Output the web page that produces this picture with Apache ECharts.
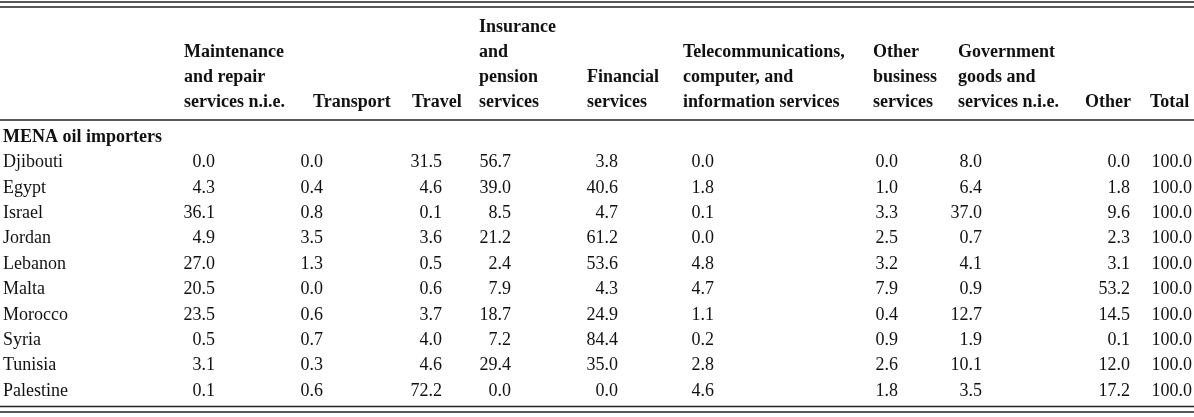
<!DOCTYPE html>
<html>
<head>
<meta charset="utf-8">
<style>
  html, body { margin: 0; padding: 0; background: #fff; }
  #main { width: 1194px; height: 417px; }
</style>
</head>
<body>
<div id="main"></div>
<script src="https://cdn.jsdelivr.net/npm/echarts@6/dist/echarts.min.js"></script>
<script>
// column headers, one entry per printed line
var headers = [
  ['Maintenance', 'and repair', 'services n.i.e.'],
  ['Transport'],
  ['Travel'],
  ['Insurance', 'and', 'pension', 'services'],
  ['Financial', 'services'],
  ['Telecommunications,', 'computer, and', 'information services'],
  ['Other', 'business', 'services'],
  ['Government', 'goods and', 'services n.i.e.'],
  ['Other'],
  ['Total']
]

var groupName = 'MENA oil importers'
var countries = ['Djibouti', 'Egypt', 'Israel', 'Jordan', 'Lebanon', 'Malta', 'Morocco', 'Syria', 'Tunisia', 'Palestine']

var maintenance = [0.0, 4.3, 36.1, 4.9, 27.0, 20.5, 23.5, 0.5, 3.1, 0.1]
var transport = [0.0, 0.4, 0.8, 3.5, 1.3, 0.0, 0.6, 0.7, 0.3, 0.6]
var travel = [31.5, 4.6, 0.1, 3.6, 0.5, 0.6, 3.7, 4.0, 4.6, 72.2]
var insurance = [56.7, 39.0, 8.5, 21.2, 2.4, 7.9, 18.7, 7.2, 29.4, 0.0]
var financial = [3.8, 40.6, 4.7, 61.2, 53.6, 4.3, 24.9, 84.4, 35.0, 0.0]
var telecom = [0.0, 1.8, 0.1, 0.0, 4.8, 4.7, 1.1, 0.2, 2.8, 4.6]
var otherBusiness = [0.0, 1.0, 3.3, 2.5, 3.2, 7.9, 0.4, 0.9, 2.6, 1.8]
var government = [8.0, 6.4, 37.0, 0.7, 4.1, 0.9, 12.7, 1.9, 10.1, 3.5]
var other = [0.0, 1.8, 9.6, 2.3, 3.1, 53.2, 14.5, 0.1, 12.0, 17.2]
var total = [100.0, 100.0, 100.0, 100.0, 100.0, 100.0, 100.0, 100.0, 100.0, 100.0]

var valueColumns = [maintenance, transport, travel, insurance, financial, telecom, otherBusiness, government, other, total]

// layout: where each column sits on the (pixel wide) x axis
var headLeft = [184, 313, 412, 479, 587, 683, 873, 958, 1085, 1150]
var numRight = [215, 323, 442, 511, 618, 714, 898, 982, 1130, 1192]

var FONT = 'Liberation Serif, Times New Roman, serif'
var FONT_SIZE = 18
var TEXT_COLOR = '#111'
var RULE_COLOR = '#222'
var ROW_H = 25.4
var HEAD_LINES = 4

var rowNames = [groupName].concat(countries)

var bodyData = []
valueColumns.forEach(function(col, c) {
  col.forEach(function(v, r) {
    bodyData.push([c, r + 1, v])
  })
})

var headData = []
headers.forEach(function(lines, c) {
  lines.forEach(function(txt, i) {
    headData.push([c, HEAD_LINES - lines.length + i, i])
  })
})

function rule(y) {
  return {
    type: 'line',
    shape: { x1: 0, y1: y, x2: 1194, y2: y },
    style: { stroke: RULE_COLOR, lineWidth: 1.5 }
  }
}

var myChart = echarts.init(document.getElementById('main'))
var option = {
  animation: false,
  backgroundColor: '#fff',
  grid: [
    { left: 0, right: 0, top: 137 - ROW_H / 2, height: ROW_H * rowNames.length },
    { left: 0, right: 0, top: 27 - 12.5, height: 25 * HEAD_LINES }
  ],
  xAxis: [
    { type: 'value', gridIndex: 0, min: 0, max: 1194, show: false },
    { type: 'value', gridIndex: 1, min: 0, max: 1194, show: false }
  ],
  yAxis: [
    {
      type: 'category',
      gridIndex: 0,
      inverse: true,
      data: rowNames,
      axisLine: { show: false },
      axisTick: { show: false },
      splitLine: { show: false },
      axisLabel: {
        inside: true,
        margin: 3,
        fontFamily: FONT,
        fontSize: FONT_SIZE,
        color: TEXT_COLOR,
        formatter: function(name) {
          return name === groupName ? '{b|' + name + '}' : name
        },
        rich: {
          b: { fontFamily: FONT, fontSize: FONT_SIZE, fontWeight: 'bold', color: TEXT_COLOR }
        }
      }
    },
    {
      type: 'category',
      gridIndex: 1,
      inverse: true,
      data: ['l1', 'l2', 'l3', 'l4'],
      show: false
    }
  ],
  series: [
    {
      type: 'custom',
      xAxisIndex: 0,
      yAxisIndex: 0,
      data: bodyData,
      encode: { x: 0, y: 1 },
      renderItem: function(params, api) {
        var c = api.value(0)
        var pt = api.coord([numRight[c], api.value(1)])
        return {
          type: 'text',
          style: {
            x: pt[0],
            y: pt[1],
            text: api.value(2).toFixed(1),
            textAlign: 'right',
            textVerticalAlign: 'middle',
            font: FONT_SIZE + 'px ' + FONT,
            fill: TEXT_COLOR
          }
        }
      }
    },
    {
      type: 'custom',
      xAxisIndex: 1,
      yAxisIndex: 1,
      data: headData,
      encode: { x: 0, y: 1 },
      renderItem: function(params, api) {
        var c = api.value(0)
        var pt = api.coord([headLeft[c], api.value(1)])
        return {
          type: 'text',
          style: {
            x: pt[0],
            y: pt[1],
            text: headers[c][api.value(2)],
            textAlign: 'left',
            textVerticalAlign: 'middle',
            font: 'bold ' + FONT_SIZE + 'px ' + FONT,
            fill: TEXT_COLOR
          }
        }
      }
    }
  ],
  graphic: [rule(2), rule(7), rule(120), rule(406.5), rule(412)]
}
myChart.setOption(option)
window.addEventListener('resize', function() {
  myChart.resize()
})
</script>
</body>
</html>
